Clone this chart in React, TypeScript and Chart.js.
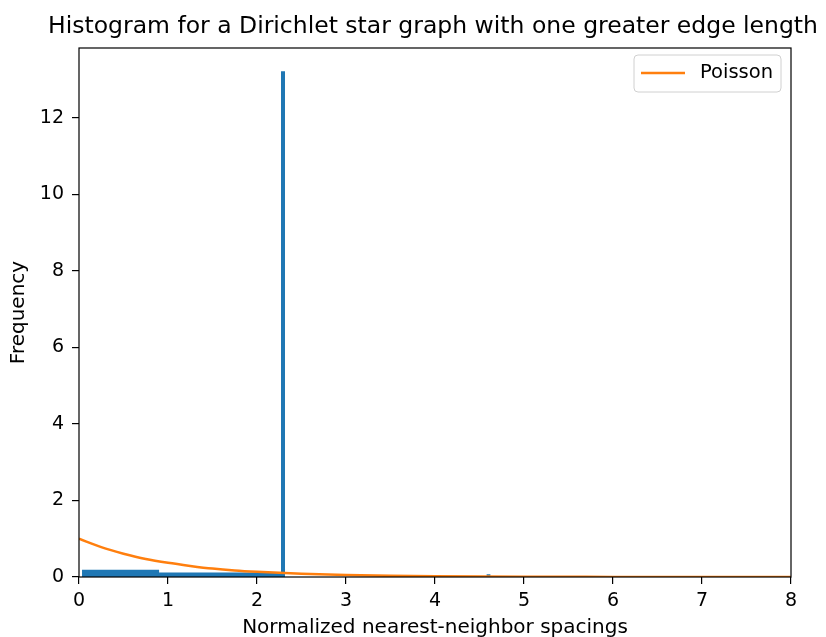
import React, { useEffect, useRef } from "react";
import { Chart, registerables } from "chart.js";

Chart.register(...registerables);

// Histogram bins (left edge, right edge, height)
const histLeft = [0.034, 0.9, 2.27, 4.58];
const histRight = [0.9, 2.27, 2.315, 4.625];
const histHeight = [0.19, 0.12, 13.22, 0.07];

// Poisson curve
const poissonX = [0, 0.25, 0.5, 0.75, 1, 1.25, 1.5, 1.75, 2, 2.5, 3, 3.5, 4, 5, 6, 7, 8];
const poissonY = [1.0, 0.78, 0.61, 0.47, 0.37, 0.29, 0.22, 0.17, 0.135, 0.082, 0.05, 0.03, 0.018, 0.007, 0.0025, 0.0009, 0.0003];

const xTicks = [0, 1, 2, 3, 4, 5, 6, 7, 8];
const yTicks = [0, 2, 4, 6, 8, 10, 12];

const TITLE = "Histogram for a Dirichlet star graph with one greater edge length";
const FONT = "'DejaVu Sans', sans-serif";

export default function App() {
  const ref = useRef<HTMLCanvasElement | null>(null);

  useEffect(() => {
    if (!ref.current) return;

    const histPts: { x: number; y: number }[] = [];
    histLeft.forEach((l, i) => {
      const r = histRight[i];
      const h = histHeight[i];
      histPts.push({ x: l, y: 0 }, { x: l, y: h }, { x: r, y: h }, { x: r, y: 0 });
    });
    const poissonPts = poissonX.map((x, i) => ({ x, y: poissonY[i] }));

    const framePlugin = {
      id: "frameAndLegend",
      afterDraw(chart: any) {
        const { ctx, chartArea } = chart;
        ctx.save();
        ctx.strokeStyle = "#000";
        ctx.lineWidth = 1.2;
        ctx.strokeRect(chartArea.left, chartArea.top, chartArea.right - chartArea.left, chartArea.bottom - chartArea.top);

        // title centred on the axes
        ctx.fillStyle = "#000";
        ctx.font = `23.5px ${FONT}`;
        ctx.textAlign = "center";
        ctx.textBaseline = "middle";
        ctx.fillText(TITLE, (chartArea.left + chartArea.right) / 2 - 2, 27);

        // legend
        const bx = 634, by = 55, bw = 147, bh = 37, rr = 4;
        ctx.beginPath();
        ctx.moveTo(bx + rr, by);
        ctx.lineTo(bx + bw - rr, by);
        ctx.arcTo(bx + bw, by, bx + bw, by + rr, rr);
        ctx.lineTo(bx + bw, by + bh - rr);
        ctx.arcTo(bx + bw, by + bh, bx + bw - rr, by + bh, rr);
        ctx.lineTo(bx + rr, by + bh);
        ctx.arcTo(bx, by + bh, bx, by + bh - rr, rr);
        ctx.lineTo(bx, by + rr);
        ctx.arcTo(bx, by, bx + rr, by, rr);
        ctx.closePath();
        ctx.fillStyle = "rgba(255,255,255,0.8)";
        ctx.fill();
        ctx.strokeStyle = "#d0d0d0";
        ctx.lineWidth = 1;
        ctx.stroke();

        ctx.beginPath();
        ctx.strokeStyle = "#ff7f0e";
        ctx.lineWidth = 2.5;
        ctx.moveTo(641, 73);
        ctx.lineTo(685, 73);
        ctx.stroke();

        ctx.fillStyle = "#000";
        ctx.font = `19.5px ${FONT}`;
        ctx.textBaseline = "middle";
        ctx.textAlign = "left";
        ctx.fillText("Poisson", 700, 73);
        ctx.restore();
      },
    };

    const chart = new Chart(ref.current, {
      type: "line",
      data: {
        datasets: [
          {
            label: "Poisson",
            data: poissonPts,
            borderColor: "#ff7f0e",
            borderWidth: 2.5,
            pointRadius: 0,
            fill: false,
            cubicInterpolationMode: "monotone",
            order: 0,
          },
          {
            label: "hist",
            data: histPts,
            borderWidth: 0,
            borderColor: "rgba(0,0,0,0)",
            backgroundColor: "#1f77b4",
            pointRadius: 0,
            fill: "origin",
            tension: 0,
            order: 1,
          },
        ],
      },
      plugins: [framePlugin],
      options: {
        animation: false,
        responsive: false,
        maintainAspectRatio: false,
        layout: { padding: { left: 0, right: 35, top: 48, bottom: 0 } },
        plugins: {
          legend: { display: false },
          tooltip: { enabled: false },
          title: { display: false },
        },
        scales: {
          x: {
            type: "linear",
            min: 0,
            max: 8,
            afterBuildTicks: (s: any) => {
              s.ticks = xTicks.map((v) => ({ value: v }));
            },
            afterFit: (s: any) => {
              s.height = 60;
            },
            grid: { display: true, drawOnChartArea: false, drawTicks: true, tickLength: 7, color: "#000", lineWidth: 1.2 },
            border: { display: false },
            ticks: { color: "#000", font: { family: FONT, size: 19 }, padding: 5.5, maxRotation: 0, autoSkip: false },
            title: {
              display: true,
              text: "Normalized nearest-neighbor spacings",
              color: "#000",
              font: { family: FONT, size: 20 },
              padding: { top: 0, bottom: -3 },
            },
          },
          y: {
            type: "linear",
            min: 0,
            max: 13.83,
            afterBuildTicks: (s: any) => {
              s.ticks = yTicks.map((v) => ({ value: v }));
            },
            afterFit: (s: any) => {
              s.width = 79;
            },
            grid: { display: true, drawOnChartArea: false, drawTicks: true, tickLength: 7, color: "#000", lineWidth: 1.2 },
            border: { display: false },
            ticks: { color: "#000", font: { family: FONT, size: 19 }, padding: 8 },
            title: {
              display: true,
              text: "Frequency",
              color: "#000",
              font: { family: FONT, size: 20 },
              padding: { top: 7, bottom: 0 },
            },
          },
        },
      },
    } as any);

    return () => chart.destroy();
  }, []);

  return (
    <div style={{ position: "fixed", left: 0, top: 0, width: 826, height: 637, background: "#fff" }}>
      <canvas ref={ref} width={826} height={637} style={{ width: 826, height: 637 }} />
    </div>
  );
}
